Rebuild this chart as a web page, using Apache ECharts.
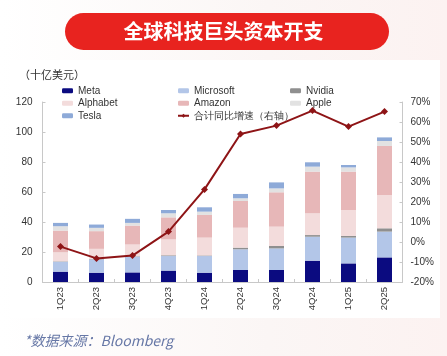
<!DOCTYPE html>
<html>
<head>
<meta charset="utf-8">
<script src="https://cdn.jsdelivr.net/npm/echarts@6/dist/echarts.min.js"></script>
<style>
html,body{margin:0;padding:0;}
body{width:447px;height:356px;background:linear-gradient(90deg,#ffffff 0%,#fbf6f5 60%,#fcf2f1 100%);}
#c{width:447px;height:356px;}
</style>
</head>
<body>
<div id="c"></div>
<script>
const categories = ['1Q23','2Q23','3Q23','4Q23','1Q24','2Q24','3Q24','4Q24','1Q25','2Q25'];
const meta      = [6.9, 6.2, 6.4, 7.6, 6.2, 8.0, 8.0, 14.2, 12.4, 16.4];
const microsoft = [6.6, 8.9, 10.5, 9.7, 11.1, 13.8, 14.4, 16.0, 17.2, 17.2];
const nvidia    = [0.3, 0.3, 0.3, 0.5, 0.4, 1.1, 1.6, 1.1, 1.1, 2.2];
const alphabet  = [6.0, 6.7, 7.8, 10.6, 11.9, 13.3, 12.9, 14.5, 17.3, 22.2];
const amazon    = [14.5, 11.8, 12.6, 14.7, 15.1, 17.8, 22.9, 27.8, 25.6, 32.7];
const apple     = [2.9, 2.2, 1.8, 2.7, 2.2, 1.8, 2.6, 3.3, 2.8, 3.3];
const tesla     = [2.2, 2.2, 2.7, 2.2, 2.9, 2.9, 4.0, 2.9, 1.6, 2.4];
const yoyGrowth = [-2.3, -8.2, -6.8, 5.2, 26.3, 54.0, 58.2, 65.7, 57.7, 65.2];
const leftTicks = {min: 0, max: 120, interval: 20};
const rightTicks = {min: -20, max: 70, interval: 10};

const colors = {
  Meta: '#0b0b80', Microsoft: '#b3c6e8', Nvidia: '#8f8f8f', Alphabet: '#f3dcdc',
  Amazon: '#e7b7b8', Apple: '#e2e2e2', Tesla: '#8eaad8'
};
const barSeries = [
  ['Meta', meta], ['Microsoft', microsoft], ['Nvidia', nvidia], ['Alphabet', alphabet],
  ['Amazon', amazon], ['Apple', apple], ['Tesla', tesla]
].map(([name, data]) => ({
  name, type: 'bar', stack: 'capex', data, barWidth: 15,
  itemStyle: {color: colors[name]}, emphasis: {disabled: true}
}));
const lineName = '合计同比增速（右轴）';
const lineSeries = {
  name: lineName, type: 'line', yAxisIndex: 1, data: yoyGrowth,
  symbol: 'diamond', symbolSize: 7,
  lineStyle: {color: '#8e1416', width: 2},
  itemStyle: {color: '#8e1416'}, z: 10
};

const legendBase = {
  orient: 'vertical', itemWidth: 11, itemHeight: 5, itemGap: 1,
  textStyle: {fontSize: 10, color: '#333', fontFamily: 'Liberation Sans, Arial', lineHeight: 11.5},
  selectedMode: false
};

const chart = echarts.init(document.getElementById('c'), null, {renderer: 'canvas'});
chart.setOption({
  animation: false,
  backgroundColor: 'transparent',
  graphic: [
    {type: 'rect', left: 10, top: 60, shape: {width: 430, height: 258}, style: {fill: '#ffffff'}, z: -10},
    {type: 'rect', left: 65, top: 13, shape: {width: 324, height: 37, r: 18.5}, style: {fill: '#e8231f'}},
    {type: 'text', left: 'center', top: 21, style: {text: '全球科技巨头资本开支', fill: '#fff',
      font: 'bold 20px "Noto Sans CJK SC"'}},
    {type: 'text', left: 19, top: 69, style: {text: '（十亿美元）', fill: '#333',
      font: '11px "Noto Sans CJK SC"'}},
    {type: 'text', left: 24, top: 334, style: {text: '*数据来源：Bloomberg', fill: '#6677a6',
      font: 'italic 14px "Noto Sans CJK SC"'}}
  ],
  legend: [
    Object.assign({left: 57, top: 80, data: ['Meta', 'Alphabet', 'Tesla']}, legendBase),
    Object.assign({left: 172, top: 80, data: ['Microsoft', 'Amazon', {name: lineName, itemStyle: {color: '#8e1416'}}]}, legendBase),
    Object.assign({left: 285, top: 80, data: ['Nvidia', 'Apple']}, legendBase)
  ],
  grid: {left: 42.5, right: 44.5, top: 102, bottom: 74},
  xAxis: {
    type: 'category', data: categories,
    axisLine: {lineStyle: {color: '#c8c8c8'}},
    axisTick: {show: true, inside: true, length: 3, lineStyle: {color: '#c8c8c8'}},
    axisLabel: {rotate: 90, fontSize: 9.5, color: '#333', margin: 5, fontFamily: 'Liberation Sans, Arial'}
  },
  yAxis: [
    {type: 'value', min: leftTicks.min, max: leftTicks.max, interval: leftTicks.interval,
      splitLine: {show: false},
      axisLine: {show: true, lineStyle: {color: '#c8c8c8'}},
      axisTick: {show: true, inside: true, length: 3, lineStyle: {color: '#c8c8c8'}},
      axisLabel: {fontSize: 10, color: '#333', margin: 10, fontFamily: 'Liberation Sans, Arial'}},
    {type: 'value', min: rightTicks.min, max: rightTicks.max, interval: rightTicks.interval,
      splitLine: {show: false},
      axisLine: {show: true, lineStyle: {color: '#c8c8c8'}},
      axisTick: {show: true, inside: true, length: 3, lineStyle: {color: '#c8c8c8'}},
      axisLabel: {fontSize: 10, color: '#333', margin: 8, formatter: '{value}%', fontFamily: 'Liberation Sans, Arial'}}
  ],
  series: [...barSeries, lineSeries]
});
</script>
</body>
</html>
